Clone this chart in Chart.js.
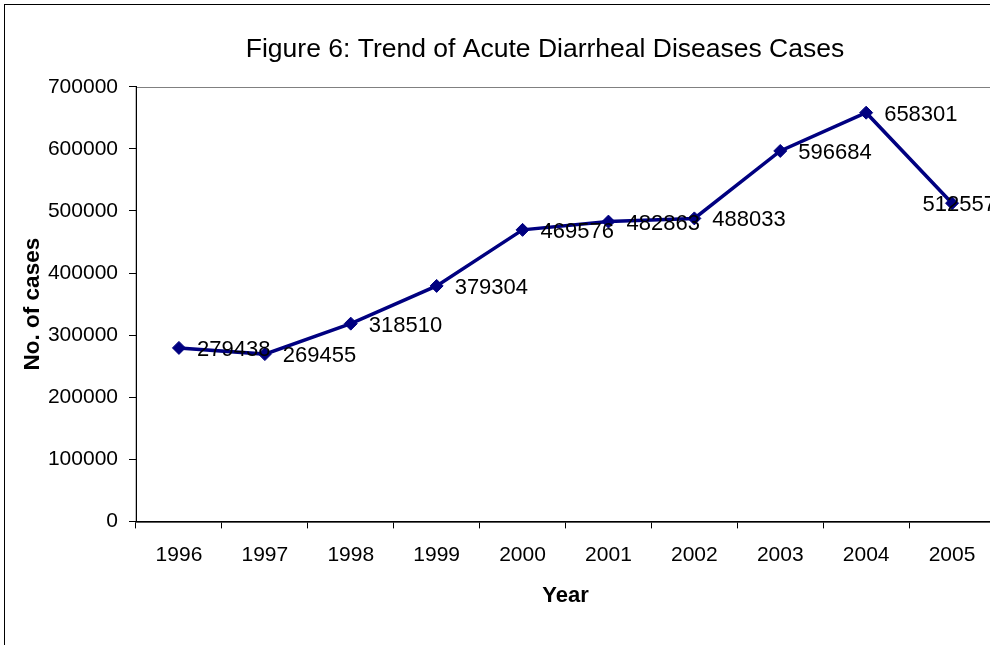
<!DOCTYPE html>
<html>
<head>
<meta charset="utf-8">
<title>Trend of Acute Diarrheal Diseases Cases</title>
<script src="https://cdn.jsdelivr.net/npm/chart.js@4.4.1/dist/chart.umd.min.js"></script>
<style>
  html, body { margin: 0; padding: 0; background: #fff; }
  #wrap { position: relative; width: 990px; height: 645px; overflow: hidden; }
  #chart { position: absolute; left: 0; top: 0; }
</style>
</head>
<body>
<div id="wrap">
  <canvas id="chart" width="1080" height="660"></canvas>
</div>
<script>
'use strict';

var years = ['1996', '1997', '1998', '1999', '2000', '2001', '2002', '2003', '2004', '2005'];
var cases = [279438, 269455, 318510, 379304, 469576, 482863, 488033, 596684, 658301, 512557];
var yTicks = [0, 100000, 200000, 300000, 400000, 500000, 600000, 700000];

var titleText = 'Figure 6: Trend of Acute Diarrheal Diseases Cases';
var xTitle = 'Year';
var yTitle = 'No. of cases';

var fontFamily = "Arial, 'Liberation Sans', sans-serif";
var navy = '#000080';

// outer chart frame + plot area border
var framePlugin = {
  id: 'frame',
  beforeDraw: function (chart) {
    var ctx = chart.ctx;
    var a = chart.chartArea;
    ctx.save();
    ctx.strokeStyle = '#000';
    ctx.lineWidth = 1;
    ctx.strokeRect(4.5, 4.5, 2000, 2000);
    ctx.strokeStyle = '#808080';
    ctx.strokeRect(a.left, Math.round(a.top) + 0.5, a.right - a.left, a.bottom - a.top);
    ctx.restore();
  }
};

// value labels to the right of each point, kept inside the visible frame
var valueLabels = {
  id: 'valueLabels',
  afterDatasetsDraw: function (chart) {
    var ctx = chart.ctx;
    var meta = chart.getDatasetMeta(0);
    var maxRight = 996;
    ctx.save();
    ctx.font = '22px ' + fontFamily;
    ctx.fillStyle = '#000';
    ctx.textAlign = 'left';
    ctx.textBaseline = 'middle';
    meta.data.forEach(function (pt, i) {
      var txt = String(cases[i]);
      var w = ctx.measureText(txt).width;
      var x = Math.min(pt.x + 18, maxRight - w);
      ctx.fillText(txt, x, pt.y + 2);
    });
    ctx.restore();
  }
};

new Chart(document.getElementById('chart').getContext('2d'), {
  type: 'line',
  data: {
    labels: years,
    datasets: [{
      label: 'Cases',
      data: cases,
      borderColor: navy,
      backgroundColor: navy,
      borderWidth: 3.5,
      tension: 0,
      pointStyle: 'rectRot',
      pointRadius: 6.5,
      pointBorderWidth: 1,
      pointBackgroundColor: navy,
      pointBorderColor: navy
    }]
  },
  options: {
    responsive: false,
    animation: false,
    events: [],
    layout: { padding: { left: 10, right: 0, top: 0, bottom: 51 } },
    plugins: {
      legend: { display: false },
      tooltip: { enabled: false },
      title: {
        display: true,
        text: titleText,
        color: '#000',
        font: { family: fontFamily, size: 26.5, weight: 'normal' },
        padding: { top: 34, bottom: 21 }
      }
    },
    scales: {
      x: {
        type: 'category',
        offset: true,
        grid: { offset: true, drawOnChartArea: false, drawTicks: true, tickLength: 7, color: '#000' },
        border: { color: '#000', width: 1.5 },
        ticks: { color: '#000', padding: 14, maxRotation: 0, font: { family: fontFamily, size: 21 } },
        title: {
          display: true,
          text: xTitle,
          color: '#000',
          font: { family: fontFamily, size: 22, weight: 'bold' },
          padding: { top: 1, bottom: 0 }
        }
      },
      y: {
        min: 0,
        max: 700000,
        afterBuildTicks: function (scale) {
          scale.ticks = yTicks.map(function (v) { return { value: v }; });
        },
        afterFit: function (scale) { scale.width = 126; },
        grid: { drawOnChartArea: false, drawTicks: true, tickLength: 7, color: '#000' },
        border: { color: '#000', width: 1 },
        ticks: {
          color: '#000',
          padding: 11,
          font: { family: fontFamily, size: 21 },
          callback: function (v) { return String(v); }
        },
        title: {
          display: true,
          text: yTitle,
          color: '#000',
          font: { family: fontFamily, size: 22.5, weight: 'bold' },
          padding: { top: 9, bottom: 0 }
        }
      },
      y2: {
        position: 'right',
        display: true,
        afterFit: function (scale) { scale.width = 85; },
        grid: { display: false, drawTicks: false },
        border: { display: false },
        ticks: { display: false }
      }
    }
  },
  plugins: [framePlugin, valueLabels]
});
</script>
</body>
</html>
